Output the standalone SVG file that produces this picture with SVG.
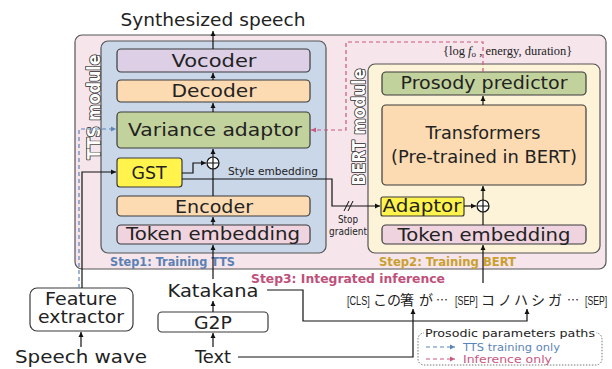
<svg xmlns="http://www.w3.org/2000/svg" width="612" height="369" viewBox="0 0 612 369">
  <defs>
    <marker id="ah" markerWidth="6" markerHeight="6" refX="5" refY="3" orient="auto" markerUnits="userSpaceOnUse">
      <path d="M0,0.5 L5,3 L0,5.5 Z" fill="#111"/>
    </marker>
    <marker id="ahPink" markerWidth="6" markerHeight="6" refX="5" refY="3" orient="auto" markerUnits="userSpaceOnUse">
      <path d="M0,0.5 L5,3 L0,5.5 Z" fill="#c8587f"/>
    </marker>
    <marker id="ahBlue" markerWidth="6" markerHeight="6" refX="5" refY="3" orient="auto" markerUnits="userSpaceOnUse">
      <path d="M0,0.5 L5,3 L0,5.5 Z" fill="#5b84b8"/>
    </marker>
  </defs>
  <style>
    text { font-family: "DejaVu Sans", "Liberation Sans", sans-serif; fill: #222; }
    .lbl { font-size: 17px; text-anchor: middle; }
    .node { stroke: #3a3a3a; stroke-width: 1.2; }
    .wire { fill: none; stroke: #111; stroke-width: 1.2; }
    .pink { fill: none; stroke: #c8587f; stroke-width: 1.2; stroke-dasharray: 4 3; }
    .blue { fill: none; stroke: #5b84b8; stroke-width: 1.2; stroke-dasharray: 4 3; }
    .step { font-size: 12px; font-weight: bold; }
    .hollow { font-size: 17px; font-weight: bold; fill: #fff; stroke: #2a2a2a; stroke-width: 1.6; paint-order: stroke; stroke-linejoin: round; text-anchor: middle; }
    .small { font-size: 10px; }
    .tokens { font-size: 14px; font-family: "Noto Sans CJK JP", sans-serif; }
    .tag { font-size: 12px; font-family: "Liberation Sans", sans-serif; }
    .leg { font-size: 11px; }
  </style>

  <rect width="612" height="369" fill="#fff"/>

  <!-- Step3 container -->
  <g id="step3">
    <rect x="75" y="35" width="531" height="234" rx="7" fill="#f6e6ec" stroke="#555" stroke-width="1.2"/>
    <text class="step" x="251" y="283" style="fill:#c0507a" textLength="194" lengthAdjust="spacingAndGlyphs">Step3: Integrated inference</text>
  </g>

  <!-- TTS module container -->
  <g id="tts-module">
    <rect x="101" y="41" width="225" height="212" rx="7" fill="#cad7e8" stroke="#555" stroke-width="1.2"/>
    <text class="hollow" transform="translate(100,107) rotate(-90)" textLength="105" lengthAdjust="spacingAndGlyphs">TTS module</text>
    <text class="step" x="110" y="266" style="fill:#5a80b3" textLength="125" lengthAdjust="spacingAndGlyphs">Step1: Training TTS</text>
  </g>

  <!-- BERT module container -->
  <g id="bert-module">
    <rect x="368" y="64" width="232" height="189" rx="7" fill="#fcf3d8" stroke="#555" stroke-width="1.2"/>
    <text class="hollow" transform="translate(365,127) rotate(-90)" textLength="117" lengthAdjust="spacingAndGlyphs">BERT module</text>
    <text class="step" x="379" y="266" style="fill:#c9a02e" textLength="137" lengthAdjust="spacingAndGlyphs">Step2: Training BERT</text>
  </g>

  <!-- TTS nodes -->
  <g id="vocoder">
    <rect class="node" x="117" y="49" width="193" height="23" rx="4" fill="#dccfe6"/>
    <text class="lbl" x="214" y="67" textLength="85" lengthAdjust="spacingAndGlyphs">Vocoder</text>
  </g>
  <g id="decoder">
    <rect class="node" x="117" y="80" width="193" height="22" rx="4" fill="#fcdbb3"/>
    <text class="lbl" x="214" y="97" textLength="85" lengthAdjust="spacingAndGlyphs">Decoder</text>
  </g>
  <g id="variance-adaptor">
    <rect class="node" x="117" y="112" width="193" height="36" rx="4" fill="#c2d29c"/>
    <text class="lbl" x="215" y="136" textLength="174" lengthAdjust="spacingAndGlyphs">Variance adaptor</text>
  </g>
  <g id="gst">
    <rect class="node" x="117" y="158" width="65" height="29" rx="3" fill="#fff34c"/>
    <text class="lbl" x="149" y="179" textLength="35" lengthAdjust="spacingAndGlyphs">GST</text>
  </g>
  <g id="tts-sum">
    <circle cx="213" cy="163" r="6" fill="#fff" stroke="#111" stroke-width="1.2"/>
    <path d="M207,163 H219 M213,157 V169" stroke="#111" stroke-width="1.2"/>
  </g>
  <g id="encoder">
    <rect class="node" x="117" y="196" width="193" height="20" rx="4" fill="#fcdbb3"/>
    <text class="lbl" x="214" y="213" textLength="78" lengthAdjust="spacingAndGlyphs">Encoder</text>
  </g>
  <g id="tts-token-embedding">
    <rect class="node" x="117" y="225" width="193" height="19" rx="4" fill="#efd3df"/>
    <text class="lbl" x="213" y="240" textLength="174" lengthAdjust="spacingAndGlyphs">Token embedding</text>
  </g>

  <!-- BERT nodes -->
  <g id="prosody-predictor">
    <rect class="node" x="382" y="72" width="204" height="23" rx="4" fill="#c2d29c"/>
    <text class="lbl" x="484" y="89" textLength="167" lengthAdjust="spacingAndGlyphs">Prosody predictor</text>
  </g>
  <g id="transformers">
    <rect class="node" x="382" y="105" width="204" height="80" rx="4" fill="#fcdbb3"/>
    <text class="lbl" x="483" y="139" textLength="115" lengthAdjust="spacingAndGlyphs">Transformers</text>
    <text class="lbl" x="484" y="163" textLength="186" lengthAdjust="spacingAndGlyphs">(Pre-trained in BERT)</text>
  </g>
  <g id="adaptor">
    <rect class="node" x="381" y="197" width="83" height="19" rx="2" fill="#fff34c"/>
    <text class="lbl" x="422" y="212" textLength="79" lengthAdjust="spacingAndGlyphs">Adaptor</text>
  </g>
  <g id="bert-sum">
    <circle cx="483" cy="206" r="6" fill="#fff" stroke="#111" stroke-width="1.2"/>
    <path d="M477,206 H489 M483,200 V212" stroke="#111" stroke-width="1.2"/>
  </g>
  <g id="bert-token-embedding">
    <rect class="node" x="382" y="225" width="204" height="19" rx="4" fill="#efd3df"/>
    <text class="lbl" x="484" y="241" textLength="173" lengthAdjust="spacingAndGlyphs">Token embedding</text>
  </g>

  <!-- Outside nodes -->
  <g id="feature-extractor">
    <rect class="node" x="30" y="288" width="103" height="43" rx="7" fill="#fff"/>
    <text class="lbl" x="81" y="305" textLength="72" lengthAdjust="spacingAndGlyphs">Feature</text>
    <text class="lbl" x="81" y="323" textLength="86" lengthAdjust="spacingAndGlyphs">extractor</text>
  </g>
  <g id="g2p">
    <rect class="node" x="158" y="312" width="110" height="20" rx="4" fill="#fff"/>
    <text class="lbl" x="213" y="329" textLength="38" lengthAdjust="spacingAndGlyphs">G2P</text>
  </g>
  <g id="synthesized-speech">
    <text class="lbl" x="213" y="26" style="font-size:18px" textLength="185" lengthAdjust="spacingAndGlyphs">Synthesized speech</text>
  </g>
  <g id="katakana">
    <text class="lbl" x="213" y="297" textLength="91" lengthAdjust="spacingAndGlyphs">Katakana</text>
  </g>
  <g id="text-input">
    <text class="lbl" x="213" y="363" textLength="36" lengthAdjust="spacingAndGlyphs">Text</text>
  </g>
  <g id="speech-wave">
    <text class="lbl" x="81" y="363" textLength="132" lengthAdjust="spacingAndGlyphs">Speech wave</text>
  </g>

  <!-- BERT input token sequence: narrow special tags plus Japanese tokens -->
  <g id="bert-tokens">
    <text class="tag" transform="translate(347,305) scale(0.76,1)">[CLS]</text>
    <text class="tag" transform="translate(455,305) scale(0.74,1)">[SEP]</text>
    <text class="tag" transform="translate(585,305) scale(0.72,1)">[SEP]</text>
    <text class="tokens" y="305"><tspan x="373">この</tspan><tspan x="400">箸</tspan><tspan x="419">が</tspan><tspan x="436" style="font-size:12px">…</tspan><tspan x="481">コ</tspan><tspan x="498">ノ</tspan><tspan x="514">ハ</tspan><tspan x="531">シ</tspan><tspan x="548">ガ</tspan><tspan x="567" style="font-size:12px">…</tspan></text>
  </g>

  <g id="prosody-label">
    <text x="443" y="55" style="font-family:'Liberation Serif',serif; font-size:12.5px">{log <tspan font-style="italic">f</tspan><tspan style="font-size:9px" dy="2">o</tspan><tspan dy="-2"> , energy, duration}</tspan></text>
  </g>
  <g id="style-embedding-label">
    <text class="small" x="228" y="175" textLength="90" lengthAdjust="spacingAndGlyphs">Style embedding</text>
  </g>
  <g id="stop-gradient-label">
    <text class="small" x="348" y="223" text-anchor="middle" textLength="20" lengthAdjust="spacingAndGlyphs">Stop</text>
    <text class="small" x="348" y="235" text-anchor="middle" textLength="38" lengthAdjust="spacingAndGlyphs">gradient</text>
  </g>

  <!-- Legend -->
  <g id="legend">
    <rect x="418" y="333" width="184" height="32" rx="6" fill="#fff" stroke="#777" stroke-width="1" stroke-dasharray="1.5 1.5"/>
    <rect x="424" y="328" width="172" height="8" fill="#fff"/>
    <text class="leg" x="425" y="337" textLength="170" lengthAdjust="spacingAndGlyphs">Prosodic parameters paths</text>
    <line class="blue" x1="426" y1="347" x2="455" y2="347" marker-end="url(#ahBlue)"/>
    <text class="leg" x="463" y="351" style="fill:#5b84b8" textLength="97" lengthAdjust="spacingAndGlyphs">TTS training only</text>
    <line class="pink" x1="426" y1="359" x2="455" y2="359" marker-end="url(#ahPink)"/>
    <text class="leg" x="463" y="363" style="fill:#c8587f" textLength="89" lengthAdjust="spacingAndGlyphs">Inference only</text>
  </g>

  <!-- Connectors -->
  <g id="connectors">
    <!-- TTS main chain -->
    <line class="wire" x1="213" y1="279" x2="213" y2="245" marker-end="url(#ah)"/>
    <line class="wire" x1="213" y1="225" x2="213" y2="217" marker-end="url(#ah)"/>
    <line class="wire" x1="213" y1="196" x2="213" y2="169"/>
    <line class="wire" x1="213" y1="157" x2="213" y2="149" marker-end="url(#ah)"/>
    <line class="wire" x1="213" y1="112" x2="213" y2="103" marker-end="url(#ah)"/>
    <line class="wire" x1="213" y1="80" x2="213" y2="73" marker-end="url(#ah)"/>
    <line class="wire" x1="213" y1="49" x2="213" y2="31" marker-end="url(#ah)"/>
    <!-- GST into sum -->
    <polyline class="wire" points="182,173 193,173 193,163 206,163" marker-end="url(#ah)"/>
    <!-- Style embedding to BERT adaptor (stop gradient) -->
    <polyline class="wire" points="182,179 332,179 332,206 380,206" marker-end="url(#ah)"/>
    <path d="M344,211 L349,201 M348,211 L353,201" stroke="#111" stroke-width="1"/>
    <!-- Feature extractor paths -->
    <polyline class="blue" points="79,288 79,129 116,129" marker-end="url(#ahBlue)"/>
    <polyline class="wire" points="82,288 82,172 116,172" marker-end="url(#ah)"/>
    <!-- Prosody predictor to variance adaptor (inference) -->
    <polyline class="pink" points="483,72 483,42 346,42 346,130 311,130" marker-end="url(#ahPink)"/>
    <!-- Inputs -->
    <line class="wire" x1="81" y1="347" x2="81" y2="332" marker-end="url(#ah)"/>
    <line class="wire" x1="213" y1="347" x2="213" y2="333" marker-end="url(#ah)"/>
    <line class="wire" x1="213" y1="312" x2="213" y2="301" marker-end="url(#ah)"/>
    <!-- BERT chain -->
    <line class="wire" x1="483" y1="283" x2="483" y2="245" marker-end="url(#ah)"/>
    <line class="wire" x1="483" y1="225" x2="483" y2="212"/>
    <line class="wire" x1="464" y1="206" x2="476" y2="206" marker-end="url(#ah)"/>
    <line class="wire" x1="483" y1="200" x2="483" y2="186" marker-end="url(#ah)"/>
    <line class="wire" x1="483" y1="105" x2="483" y2="96" marker-end="url(#ah)"/>
    <!-- Text / Katakana to tokens -->
    <polyline class="wire" points="267,290 303,290 303,321 527,321 527,309" marker-end="url(#ah)"/>
    <polyline class="wire" points="238,357 413,357 413,309" marker-end="url(#ah)"/>
  </g>
</svg>
